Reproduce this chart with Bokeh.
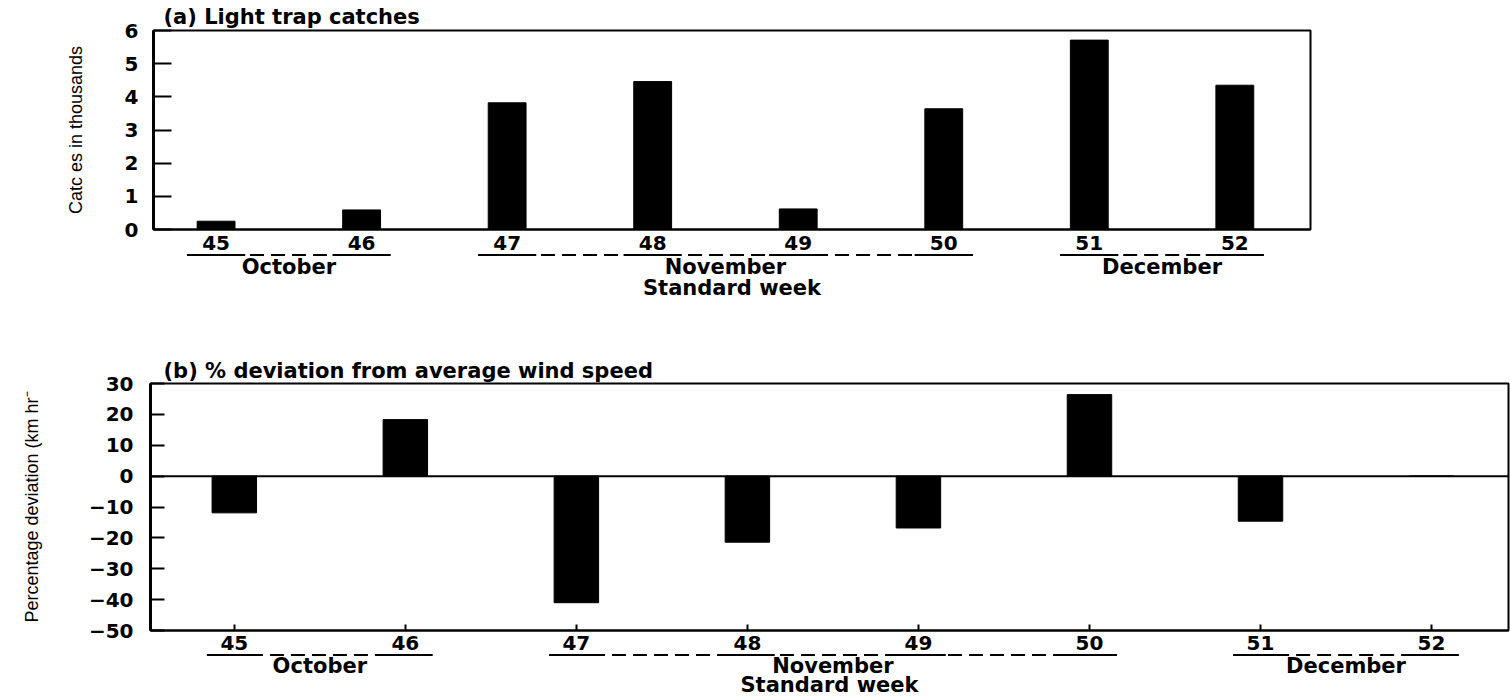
from bokeh.plotting import figure
from bokeh.layouts import column
from bokeh.models import Range1d, FixedTicker, Span
from bokeh.embed import file_html
from bokeh.resources import INLINE

# ---------------- data ----------------
weeks = [45, 46, 47, 48, 49, 50, 51, 52]
week_labels = ["45", "46", "47", "48", "49", "50", "51", "52"]
catches_thousands = [0.25, 0.59, 3.82, 4.46, 0.62, 3.64, 5.71, 4.35]
wind_deviation_pct = [-11.9, 18.3, -41.0, -21.4, -16.8, 26.4, -14.6, 0.0]
months = ["October", "November", "December"]
month_first_week = [45, 47, 51]
month_last_week = [46, 50, 52]
yticks_a = [0, 1, 2, 3, 4, 5, 6]
yticks_b = [-50, -40, -30, -20, -10, 0, 10, 20, 30]
title_a = "(a) Light trap catches"
title_b = "(b) % deviation from average wind speed"
ylabel_a = "Catc es in thousands"
ylabel_b = "Percentage deviation (km hr\u207b"
xlabel = "Standard week"

# ---------------- style ----------------
W = 1510
BOLD_FONT = "DejaVu Sans"
NARROW_FONT = "Liberation Sans Narrow, Liberation Sans"
NUM_SIZE = "20px"
WORD_SIZE = "21px"
TITLE_SIZE = "21px"


def style_text_axis(ax, size):
    ax.major_label_text_font = BOLD_FONT
    ax.major_label_text_font_style = "bold"
    ax.major_label_text_font_size = size
    ax.major_label_text_color = "black"


def main_fig(title, ylabel, vals, xr, yr, yticks, frame_h, top_border, bottom_border,
             left, right, xtick_in, xlabel_standoff, label_standoff,
             ylab_standoff, ytick_in, title_offset, title_standoff):
    p = figure(width=W, height=top_border + frame_h + bottom_border,
               x_range=xr, y_range=yr,
               toolbar_location=None, output_backend="svg",
               min_border_left=left, min_border_right=right,
               min_border_top=top_border, min_border_bottom=bottom_border,
               title=title)
    p.title.text_font = BOLD_FONT
    p.title.text_font_size = TITLE_SIZE
    p.title.text_font_style = "bold"
    p.title.text_color = "black"
    p.title.align = "left"
    p.title.offset = title_offset
    p.title.standoff = title_standoff
    p.grid.visible = False
    p.outline_line_color = "black"
    p.outline_line_width = 2
    p.background_fill_color = "white"
    p.border_fill_color = "white"

    ya = p.yaxis[0]
    ya.ticker = FixedTicker(ticks=yticks)
    ya.major_tick_in = ytick_in
    ya.major_tick_out = 0
    ya.major_tick_line_width = 2
    ya.major_tick_line_color = "black"
    ya.minor_tick_line_color = None
    ya.axis_line_width = 3
    ya.axis_line_color = "black"
    style_text_axis(ya, NUM_SIZE)
    ya.major_label_standoff = label_standoff
    ya.axis_label = ylabel
    ya.axis_label_text_font = NARROW_FONT
    ya.axis_label_text_font_style = "normal"
    ya.axis_label_text_font_size = "18px"
    ya.axis_label_text_color = "black"
    ya.axis_label_standoff = ylab_standoff

    xa = p.xaxis[0]
    xa.ticker = FixedTicker(ticks=weeks)
    xa.major_label_overrides = {w: lab for w, lab in zip(weeks, week_labels)}
    xa.major_tick_in = xtick_in
    xa.major_tick_out = 0
    xa.major_tick_line_width = 2
    xa.major_tick_line_color = "black" if xtick_in > 0 else None
    xa.minor_tick_line_color = None
    xa.axis_line_width = 2
    xa.axis_line_color = "black"
    style_text_axis(xa, NUM_SIZE)
    xa.major_label_standoff = xlabel_standoff

    p.vbar(x=weeks, top=vals, bottom=0, width=0.26,
           fill_color="black", line_color="black")
    return p


def strip(xr, left, right, bottom_border, month_standoff, title_standoff, half):
    frame_h = 3
    s = figure(width=W, height=frame_h + bottom_border, x_range=xr,
               y_range=Range1d(frame_h, 0),
               toolbar_location=None, output_backend="svg",
               min_border_left=left, min_border_right=right,
               min_border_top=0, min_border_bottom=bottom_border,
               y_axis_location=None)
    s.outline_line_color = None
    s.grid.visible = False
    s.background_fill_color = "white"
    s.border_fill_color = "white"
    # solid underline below each week number
    s.rect(x=weeks, y=frame_h / 2, width=2 * half, height=2, height_units="screen",
           fill_color="black", line_color=None)
    # dashed line joining the weeks of one month
    s.segment(x0=[w - half for w in month_first_week], y0=frame_h / 2,
              x1=[w + half for w in month_last_week], y1=frame_h / 2,
              line_color="black", line_width=2, line_dash="14 7")
    # month names as tick labels, "Standard week" as the axis title
    centers = [(a + b) / 2 for a, b in zip(month_first_week, month_last_week)]
    xa = s.xaxis[0]
    xa.ticker = FixedTicker(ticks=centers)
    xa.major_label_overrides = {c: m for c, m in zip(centers, months)}
    xa.major_tick_line_color = None
    xa.major_tick_in = 0
    xa.major_tick_out = 0
    xa.minor_tick_line_color = None
    xa.axis_line_color = None
    style_text_axis(xa, WORD_SIZE)
    xa.major_label_standoff = month_standoff
    xa.axis_label = xlabel
    xa.axis_label_text_font = BOLD_FONT
    xa.axis_label_text_font_style = "bold"
    xa.axis_label_text_font_size = WORD_SIZE
    xa.axis_label_text_color = "black"
    xa.axis_label_standoff = title_standoff
    return s


# ---------------- panel (a) ----------------
xr_a = Range1d(44.57, 52.52)
yr_a = Range1d(0, 6)
pa = main_fig(title_a, ylabel_a, catches_thousands, xr_a, yr_a, yticks_a,
              frame_h=201, top_border=28, bottom_border=24, left=153, right=W - 1310,
              xtick_in=0, xlabel_standoff=6, label_standoff=15, ylab_standoff=36,
              ytick_in=18, title_offset=10, title_standoff=4)
sa = strip(xr_a, 153, W - 1310, bottom_border=56, month_standoff=-2,
           title_standoff=-6, half=0.2)

# ---------------- panel (b) ----------------
xr_b = Range1d(44.51, 52.45)
yr_b = Range1d(-50, 30)
pb = main_fig(title_b, ylabel_b, wind_deviation_pct, xr_b, yr_b, yticks_b,
              frame_h=247, top_border=71, bottom_border=23, left=150, right=2,
              xtick_in=6, xlabel_standoff=5, label_standoff=17, ylab_standoff=44,
              ytick_in=14, title_offset=13, title_standoff=1)
pb.add_layout(Span(location=0, dimension="width", line_color="black", line_width=2))
sb = strip(xr_b, 150, 2, bottom_border=43, month_standoff=-3,
           title_standoff=-8, half=0.16)

panel_a = column(pa, sa, spacing=0)
panel_b = column(pb, sb, spacing=0)
open("out.html", "w").write(file_html([panel_a, panel_b], INLINE))
